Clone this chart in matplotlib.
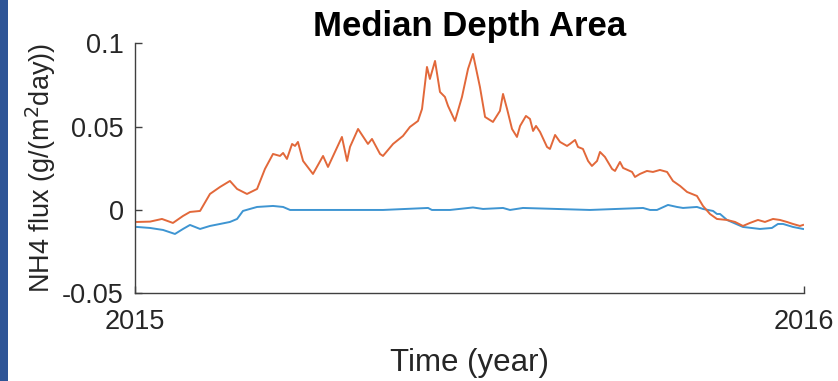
import matplotlib
matplotlib.use("Agg")
import matplotlib.pyplot as plt
from matplotlib.patches import Rectangle
import numpy as np

# Day of year (2015) and NH4 flux, g/(m^2 day)
orange_day = [1.1, 8.2, 14.7, 20.7, 26.2, 30.0, 35.5, 40.9, 46.4, 51.8, 55.7, 61.1,
              66.6, 70.9, 75.3, 79.1, 80.8, 82.9, 85.7, 87.3, 88.9, 91.7, 97.1,
              102.6, 105.3, 112.9, 115.7, 117.3, 121.7, 127.1, 129.3, 133.7, 135.3,
              140.8, 146.2, 150.0, 154.4, 156.6, 159.3, 160.9, 163.7, 166.4, 169.1,
              170.8, 174.6, 178.4, 181.7, 184.4, 188.2, 191.0, 195.3, 199.1, 200.8,
              203.0, 205.7, 208.4, 210.1, 213.3, 215.5, 217.2, 218.8, 221.0, 224.8,
              226.4, 229.2, 231.9, 235.7, 237.3, 240.1, 241.7, 244.4, 247.2, 249.3,
              252.1, 253.7, 256.4, 260.3, 261.9, 264.6, 266.3, 271.2, 272.8, 275.5,
              279.3, 282.6, 286.4, 290.3, 293.5, 297.4, 301.2, 306.6, 309.9, 313.7,
              317.5, 323.0, 327.4, 331.7, 335.5, 339.9, 343.7, 348.1, 351.9, 355.7,
              359.0, 362.8, 364.5]
orange_flux = [-0.0072, -0.0070, -0.0054, -0.0078, -0.0036, -0.0012, -0.0006, 0.0096,
               0.0138, 0.0174, 0.0126, 0.0096, 0.0126, 0.0246, 0.0336, 0.0324, 0.0342,
               0.0306, 0.0396, 0.0384, 0.0408, 0.0294, 0.0216, 0.0324, 0.0258, 0.0438,
               0.0294, 0.0378, 0.0486, 0.0396, 0.0426, 0.0336, 0.0324, 0.0396, 0.0444,
               0.0498, 0.0534, 0.0606, 0.0858, 0.0786, 0.0894, 0.0708, 0.0678, 0.0624,
               0.0534, 0.0678, 0.0846, 0.0936, 0.0738, 0.0558, 0.0528, 0.0594, 0.0696,
               0.0606, 0.0486, 0.0438, 0.0504, 0.0564, 0.0546, 0.0474, 0.0504, 0.0468,
               0.0378, 0.0366, 0.0450, 0.0408, 0.0384, 0.0396, 0.0420, 0.0378, 0.0366,
               0.0294, 0.0264, 0.0294, 0.0348, 0.0318, 0.0246, 0.0234, 0.0288, 0.0252,
               0.0228, 0.0198, 0.0216, 0.0234, 0.0228, 0.0240, 0.0228, 0.0174, 0.0144,
               0.0108, 0.0084, 0.0024, -0.0024, -0.0054, -0.0060, -0.0072, -0.0096,
               -0.0078, -0.0060, -0.0072, -0.0054, -0.0060, -0.0072, -0.0084, -0.0096,
               -0.0090]

blue_day = [1.1, 8.2, 15.3, 21.8, 26.2, 30.0, 35.5, 40.9, 46.4, 51.8, 55.7, 58.9,
            62.7, 66.6, 75.3, 80.8, 84.6, 99.3, 135.3, 159.9, 162.0, 171.9, 184.4,
            189.9, 200.8, 204.6, 211.7, 248.2, 277.2, 281.0, 284.8, 290.8, 295.7,
            299.0, 306.6, 309.9, 315.4, 317.5, 319.2, 323.0, 331.7, 341.0, 347.5,
            350.8, 353.6, 359.0, 364.5]
blue_flux = [-0.0102, -0.0108, -0.0120, -0.0144, -0.0114, -0.0090, -0.0114, -0.0096,
             -0.0084, -0.0072, -0.0054, -0.0006, 0.0006, 0.0018, 0.0024, 0.0018, 0.0,
             0.0, 0.0, 0.0012, 0.0, 0.0, 0.0015, 0.0006, 0.0012, 0.0, 0.0012, 0.0,
             0.0012, 0.0, 0.0, 0.0030, 0.0018, 0.0012, 0.0018, 0.0006, -0.0006,
             -0.0024, -0.0024, -0.0060, -0.0102, -0.0114, -0.0108, -0.0084, -0.0084,
             -0.0102, -0.0114]

y_ticks = [-0.05, 0, 0.05, 0.1]
y_tick_labels = ["-0.05", "0", "0.05", "0.1"]
x_ticks = [2015, 2016]
x_tick_labels = ["2015", "2016"]

plt.rcParams["font.family"] = ["Liberation Sans", "DejaVu Sans"]

fig = plt.figure(figsize=(8.38, 3.81), dpi=100)
fig.patches.append(Rectangle((0, 0), 8 / 838, 1, transform=fig.transFigure,
                             facecolor="#2E5597", edgecolor="none", zorder=0))

ax = fig.add_axes([0.1611, 0.2302, 0.7983, 0.6562])

ax.plot(2015 + np.array(blue_day) / 365.0, blue_flux, color="#3E95D2", lw=1.4)
ax.plot(2015 + np.array(orange_day) / 365.0, orange_flux, color="#E2683A", lw=1.4)

ax.set_xlim(2015, 2016)
ax.set_ylim(-0.05, 0.1)
ax.set_yticks(y_ticks)
ax.set_yticklabels(y_tick_labels)
ax.set_xticks(x_ticks)
ax.set_xticklabels(x_tick_labels)

for side in ("top", "right"):
    ax.spines[side].set_visible(False)
for side in ("left", "bottom"):
    ax.spines[side].set_color("#404040")
    ax.spines[side].set_linewidth(1.0)

ax.tick_params(direction="in", length=5, width=1.0, color="#404040",
               labelsize=19.5, labelcolor="#262626")
ax.tick_params(axis="y", pad=8)
ax.tick_params(axis="x", pad=11.5)

ax.set_title("Median Depth Area", fontsize=25, fontweight="bold", pad=4)
ax.set_xlabel("Time (year)", fontsize=22.5, color="#262626", labelpad=9)
ax.set_ylabel(r"NH4 flux (g/(m$^2$day))", fontsize=19.5, color="#262626", labelpad=3)

fig.savefig("out.png", dpi=100)
